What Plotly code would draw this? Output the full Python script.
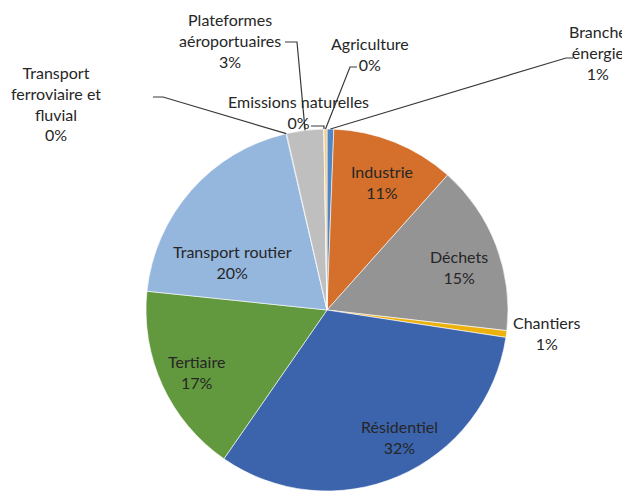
import math
import plotly.graph_objects as go

# ---------------- data ----------------
categories = ["Branche énergie", "Industrie", "Déchets", "Chantiers", "Résidentiel",
              "Tertiaire", "Transport routier", "Transport ferroviaire et fluvial",
              "Plateformes aéroportuaires", "Emissions naturelles", "Agriculture"]
values = [0.6, 11.0, 15.2, 0.6, 32.2, 17.0, 19.7, 0.05, 3.3, 0.02, 0.26]
colors = ["#4F86C6", "#D4702B", "#949494", "#EDB10E", "#3B64AD", "#62993E",
          "#95B7DE", "#2E5C8A", "#BFBFBF", "#A0A0A0", "#F6CB82"]
label_lines = [["Branche", "énergie"], ["Industrie"], ["Déchets"], ["Chantiers"],
               ["Résidentiel"], ["Tertiaire"], ["Transport routier"],
               ["Transport", "ferroviaire et", "fluvial"], ["Plateformes", "aéroportuaires"],
               ["Emissions naturelles"], ["Agriculture"]]

# ---------------- layout constants (page pixels) ----------------
PAGE_W, PAGE_H = 630, 492
OX, OY = 8, 8                      # default page body margin
W, H = PAGE_W - OX, PAGE_H - OY    # figure size
CX, CY, R = 327, 310, 181
FONT = "Lato"
FS = 16
TXT = "#262626"

# label block centres (page pixels)
label_pos = {
    "Branche énergie": (598, 52),
    "Industrie": (382, 182),
    "Déchets": (459, 267),
    "Chantiers": (546, 333),
    "Résidentiel": (399, 437),
    "Tertiaire": (196, 372),
    "Transport routier": (232, 262),
    "Transport ferroviaire et fluvial": (56, 103),
    "Plateformes aéroportuaires": (230, 40),
    "Emissions naturelles": (298, 112),
    "Agriculture": (370, 54),
}
# leader line elbow points (page pixels), before the slice anchor
leader = {
    "Branche énergie": [(573, 58), (566, 58)],
    "Transport ferroviaire et fluvial": [(153, 97), (163, 97)],
    "Plateformes aéroportuaires": [(285, 42), (297, 42)],
    "Agriculture": [(357, 67), (350, 67)],
    "Emissions naturelles": [(311, 126), (324, 126)],
}


def px(x):
    return (x - OX) / W


def py(y):
    return 1 - (y - OY) / H


total = sum(values)
fig = go.Figure(go.Pie(
    labels=categories, values=values, sort=False, direction="clockwise", rotation=0,
    marker=dict(colors=colors, line=dict(color="white", width=0.6)),
    textinfo="none", hoverinfo="label+percent", showlegend=False,
    domain=dict(x=[px(CX - R), px(CX + R)], y=[py(CY + R), py(CY - R)]),
))

annotations = []
shapes = []
cum = 0.0
for cat, val, lines in zip(categories, values, label_lines):
    frac = val / total
    mid = (cum + frac / 2) * 2 * math.pi
    cum += frac
    pct = f"{round(frac * 100)}%"
    x, y = label_pos[cat]
    annotations.append(dict(
        x=px(x), y=py(y), xref="paper", yref="paper", showarrow=False,
        text="<br>".join(lines + [pct]), align="center",
        xanchor="center", yanchor="middle",
        font=dict(family=FONT, size=FS, color=TXT),
    ))
    if cat in leader:
        ax = CX + R * math.sin(mid)
        ay = CY - R * math.cos(mid)
        pts = leader[cat] + [(ax, ay)]
        path = "M " + " L ".join(f"{px(a):.5f},{py(b):.5f}" for a, b in pts)
        shapes.append(dict(type="path", path=path, xref="paper", yref="paper",
                           line=dict(color="#3a3a3a", width=1.2)))

fig.update_layout(
    width=W, height=H, margin=dict(l=0, r=0, t=0, b=0),
    paper_bgcolor="white", plot_bgcolor="white",
    annotations=annotations, shapes=shapes,
)
fig.write_html("out.html")
